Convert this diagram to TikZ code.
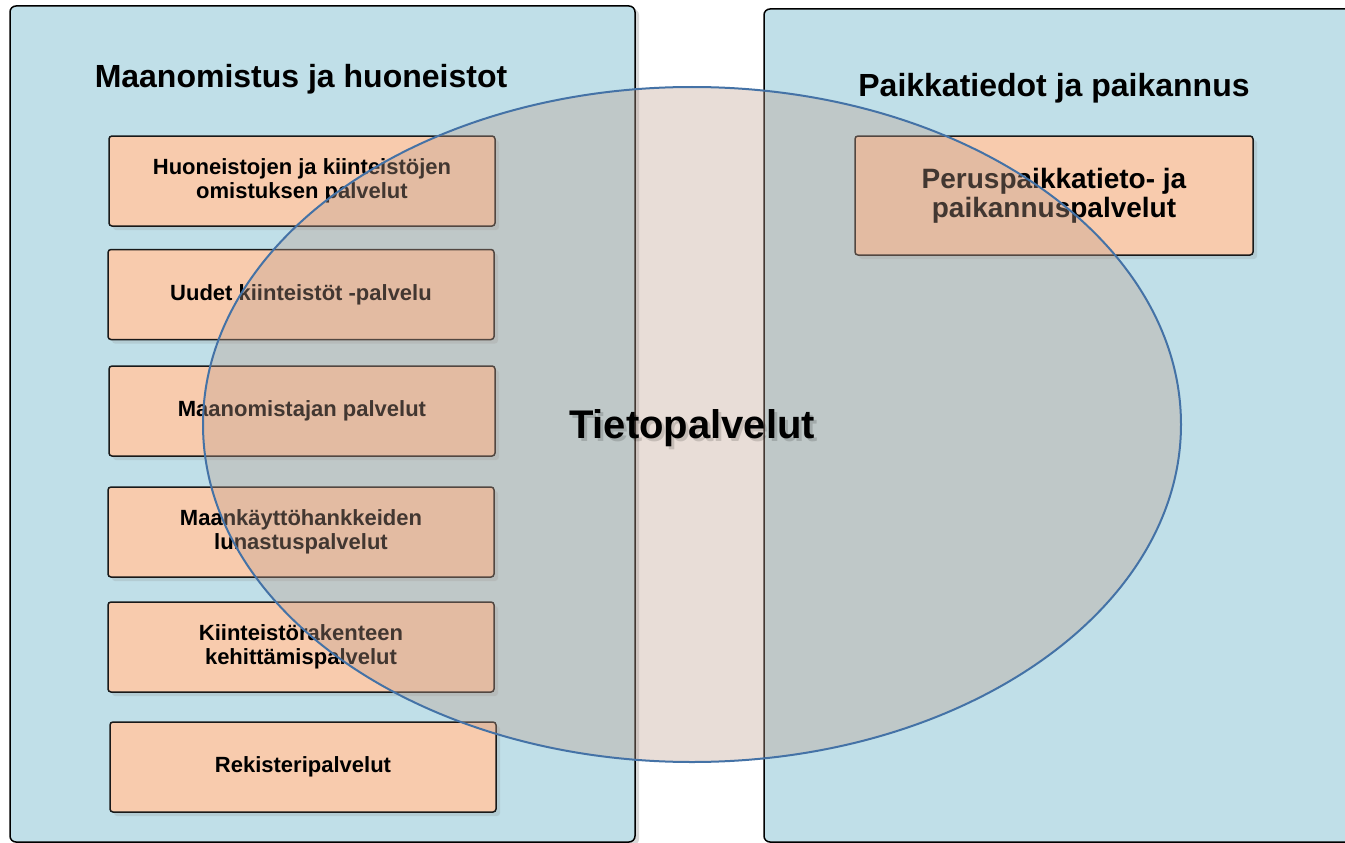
\documentclass[tikz,border=0pt]{standalone}
\usepackage{fontspec}
\setmainfont{Liberation Sans}
\usetikzlibrary{shadows,shapes.geometric}
\definecolor{panelblue}{RGB}{192,223,232}
\definecolor{boxpeach}{RGB}{248,203,173}
\definecolor{ovalfill}{RGB}{190,158,142}
\definecolor{ovalline}{RGB}{68,114,166}
\tikzset{
	panel/.style={draw=black, line width=1.5pt, fill=panelblue, rounded corners=6pt,
		drop shadow={shadow xshift=4pt, shadow yshift=-3pt, opacity=0.3}},
	paneltitle/.style={anchor=base, font=\fontsize{32}{38}\selectfont\bfseries},
	servicebox/.style={draw=black!90, line width=1.5pt, fill=boxpeach, rounded corners=3pt,
		minimum width=386pt, minimum height=90pt, align=center,
		font=\fontsize{22}{24}\selectfont\bfseries,
		drop shadow={shadow xshift=4pt, shadow yshift=-4pt, opacity=0.2}},
	oval/.style={ellipse, draw=ovalline, line width=2pt, fill=ovalfill, fill opacity=0.35,
		minimum width=978pt, minimum height=675pt, inner sep=0pt},
	bigtext/.style={anchor=base, font=\fontsize{40}{48}\selectfont\bfseries}
}
\begin{document}
\begin{tikzpicture}[x=1pt, y=-1pt]
	%%%%% START %%%%%
	\clip (0, 0) rectangle (1345, 843);
	\fill[white] (0, 0) rectangle (1345, 843);
	
	% two panels
	\draw[panel] (10, 6) rectangle (635, 842);
	\draw[panel] (764, 9) rectangle (1365, 842);
	
	\node[paneltitle] (maatitle) at (301, 88) {Maanomistus ja huoneistot};
	\node[paneltitle] (paikkatitle) at (1054, 96) {Paikkatiedot ja paikannus};
	
	% left column
	\node[servicebox] (omistus) at (302, 181) {Huoneistojen ja kiinteistöjen\\omistuksen palvelut};
	\node[servicebox] (uudet) at (301, 294.5) {Uudet kiinteistöt -palvelu};
	\node[servicebox] (maanomistaja) at (302, 411) {Maanomistajan palvelut};
	\node[servicebox] (lunastus) at (301, 532) {Maankäyttöhankkeiden\\lunastuspalvelut};
	\node[servicebox] (kehitys) at (301, 647) {Kiinteistörakenteen\\kehittämispalvelut};
	\node[servicebox] (rekisteri) at (303, 767) {Rekisteripalvelut};
	
	% right column
	\node[servicebox, minimum width=398pt, minimum height=119pt,
		font=\fontsize{28}{29}\selectfont\bfseries] (peruspaikka) at (1054, 195.5) {Peruspaikkatieto- ja\\paikannuspalvelut};
	
	% ellipse on top
	\node[oval] (tieto) at (692, 424.5) {};
	\node[bigtext, text=black, opacity=0.15] (tietoshade) at ([xshift=3pt, yshift=-17pt]tieto.center) {Tietopalvelut};
	\node[bigtext] (tietolabel) at ([yshift=-13.5pt]tieto.center) {Tietopalvelut};
	%%%%% END %%%%%
\end{tikzpicture}
\end{document}
